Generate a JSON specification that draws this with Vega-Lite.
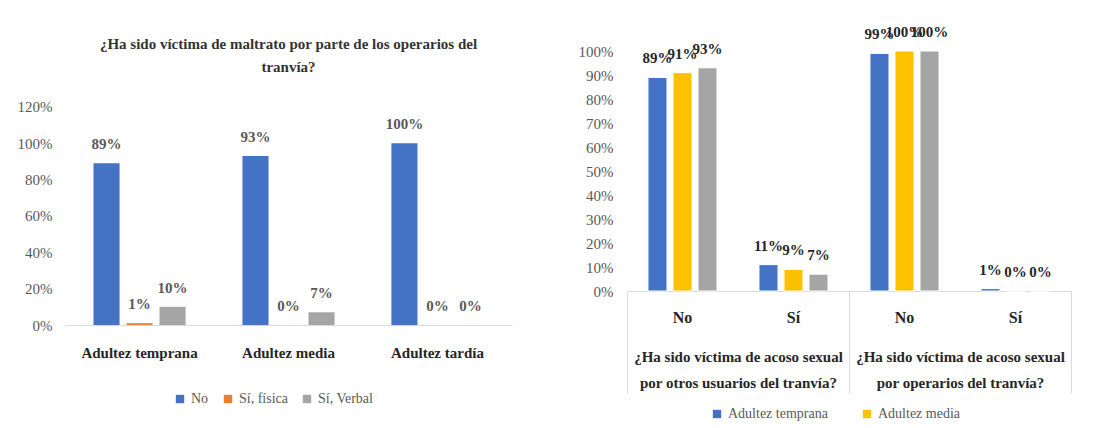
{
  "$schema": "https://vega.github.io/schema/vega-lite/v6.json",
  "padding": {"left": 17, "top": 25, "right": 5, "bottom": 2},
  "background": "white",
  "config": {
    "font": "Liberation Serif",
    "view": {"stroke": null}
  },
  "datasets": {
    "left": [
      {"grupo": "Adultez temprana", "respuesta": "No", "valor": 0.89},
      {"grupo": "Adultez temprana", "respuesta": "Sí, física", "valor": 0.01},
      {"grupo": "Adultez temprana", "respuesta": "Sí, Verbal", "valor": 0.10},
      {"grupo": "Adultez media", "respuesta": "No", "valor": 0.93},
      {"grupo": "Adultez media", "respuesta": "Sí, física", "valor": 0.0},
      {"grupo": "Adultez media", "respuesta": "Sí, Verbal", "valor": 0.07},
      {"grupo": "Adultez tardía", "respuesta": "No", "valor": 1.0},
      {"grupo": "Adultez tardía", "respuesta": "Sí, física", "valor": 0.0},
      {"grupo": "Adultez tardía", "respuesta": "Sí, Verbal", "valor": 0.0}
    ],
    "right": [
      {"pregunta": "¿Ha sido víctima de acoso sexual por otros usuarios del tranvía?", "categoria": "usuarios|No", "edad": "Adultez temprana", "valor": 0.89},
      {"pregunta": "¿Ha sido víctima de acoso sexual por otros usuarios del tranvía?", "categoria": "usuarios|No", "edad": "Adultez media", "valor": 0.91},
      {"pregunta": "¿Ha sido víctima de acoso sexual por otros usuarios del tranvía?", "categoria": "usuarios|No", "edad": "Adultez tardía", "valor": 0.93},
      {"pregunta": "¿Ha sido víctima de acoso sexual por otros usuarios del tranvía?", "categoria": "usuarios|Sí", "edad": "Adultez temprana", "valor": 0.11},
      {"pregunta": "¿Ha sido víctima de acoso sexual por otros usuarios del tranvía?", "categoria": "usuarios|Sí", "edad": "Adultez media", "valor": 0.09},
      {"pregunta": "¿Ha sido víctima de acoso sexual por otros usuarios del tranvía?", "categoria": "usuarios|Sí", "edad": "Adultez tardía", "valor": 0.07},
      {"pregunta": "¿Ha sido víctima de acoso sexual por operarios del tranvía?", "categoria": "operarios|No", "edad": "Adultez temprana", "valor": 0.99},
      {"pregunta": "¿Ha sido víctima de acoso sexual por operarios del tranvía?", "categoria": "operarios|No", "edad": "Adultez media", "valor": 1.0},
      {"pregunta": "¿Ha sido víctima de acoso sexual por operarios del tranvía?", "categoria": "operarios|No", "edad": "Adultez tardía", "valor": 1.0},
      {"pregunta": "¿Ha sido víctima de acoso sexual por operarios del tranvía?", "categoria": "operarios|Sí", "edad": "Adultez temprana", "valor": 0.01},
      {"pregunta": "¿Ha sido víctima de acoso sexual por operarios del tranvía?", "categoria": "operarios|Sí", "edad": "Adultez media", "valor": 0.0},
      {"pregunta": "¿Ha sido víctima de acoso sexual por operarios del tranvía?", "categoria": "operarios|Sí", "edad": "Adultez tardía", "valor": 0.0}
    ]
  },
  "hconcat": [
    {
      "width": 447,
      "height": 274,
      "title": {
        "text": ["¿Ha sido víctima de maltrato por parte de los operarios del", "tranvía?"],
        "font": "Liberation Serif",
        "fontSize": 15,
        "fontWeight": "bold",
        "color": "#333333",
        "lineHeight": 23,
        "anchor": "middle",
        "offset": -24
      },
      "data": {"name": "left"},
      "encoding": {
        "x": {
          "field": "grupo", "type": "nominal",
          "scale": {"domain": ["Adultez temprana", "Adultez media", "Adultez tardía"], "paddingInner": 0.335, "paddingOuter": 0.168},
          "axis": {"title": null, "labelAngle": 0, "labelFont": "Liberation Serif", "labelFontSize": 15, "labelFontWeight": "bold", "labelColor": "#262626", "ticks": false, "domainColor": "#d9d9d9", "labelPadding": 20}
        },
        "xOffset": {
          "field": "respuesta", "type": "nominal",
          "scale": {"domain": ["No", "Sí, física", "Sí, Verbal"], "paddingInner": 0.21, "paddingOuter": 0.105}
        },
        "y": {
          "field": "valor", "type": "quantitative",
          "scale": {"domain": [0, 1.508], "nice": false},
          "axis": {"title": null, "format": ".0%", "values": [0, 0.2, 0.4, 0.6, 0.8, 1.0, 1.2], "grid": false, "domain": false, "ticks": false, "labelFont": "Liberation Serif", "labelFontSize": 15, "labelColor": "#595959", "labelPadding": 13}
        }
      },
      "layer": [
        {
          "mark": {"type": "bar"},
          "encoding": {
            "color": {
              "field": "respuesta", "type": "nominal",
              "scale": {"domain": ["No", "Sí, física", "Sí, Verbal"], "range": ["#4472C4", "#ED7D31", "#A5A5A5"]},
              "legend": {"title": null, "orient": "none", "legendX": 108, "legendY": 341, "direction": "horizontal", "symbolType": "square", "symbolSize": 70, "symbolStrokeWidth": 0, "labelFont": "Liberation Serif", "labelFontSize": 14, "labelColor": "#595959", "columnPadding": 12}
            }
          }
        },
        {
          "mark": {"type": "text", "baseline": "middle", "dy": -19, "font": "Liberation Serif", "fontSize": 15, "fontWeight": "bold", "color": "#595959"},
          "encoding": {"text": {"field": "valor", "type": "quantitative", "format": ".0%"}}
        }
      ]
    },
    {
      "width": 444,
      "height": 240,
      "data": {"name": "right"},
      "layer": [
        {
          "encoding": {
            "x": {
              "field": "categoria", "type": "nominal",
              "scale": {"domain": ["usuarios|No", "usuarios|Sí", "operarios|No", "operarios|Sí"], "paddingInner": 0.324, "paddingOuter": 0.162},
              "axis": {"title": null, "orient": "bottom", "labelAngle": 0, "labelExpr": "split(datum.label, '|')[1]", "labelFont": "Liberation Serif", "labelFontSize": 16, "labelFontWeight": "bold", "labelColor": "#262626", "ticks": false, "domainColor": "#d9d9d9", "labelPadding": 18}
            },
            "xOffset": {
              "field": "edad", "type": "nominal",
              "scale": {"domain": ["Adultez temprana", "Adultez media", "Adultez tardía"], "paddingInner": 0.24, "paddingOuter": 0.12}
            },
            "y": {
              "field": "valor", "type": "quantitative",
              "scale": {"domain": [0, 1]},
              "axis": {"title": null, "format": ".0%", "values": [0, 0.1, 0.2, 0.3, 0.4, 0.5, 0.6, 0.7, 0.8, 0.9, 1.0], "grid": false, "domain": false, "ticks": false, "labelFont": "Liberation Serif", "labelFontSize": 15, "labelColor": "#595959", "labelPadding": 14}
            }
          },
          "layer": [
            {
              "mark": {"type": "bar", "stroke": "white", "strokeWidth": 1},
              "encoding": {
                "color": {
                  "field": "edad", "type": "nominal",
                  "scale": {"domain": ["Adultez temprana", "Adultez media", "Adultez tardía"], "range": ["#4472C4", "#FFC000", "#A5A5A5"]},
                  "legend": {"title": null, "orient": "none", "legendX": 83, "legendY": 356, "direction": "horizontal", "values": ["Adultez temprana", "Adultez media"], "symbolType": "square", "symbolSize": 70, "symbolStrokeWidth": 0, "labelFont": "Liberation Serif", "labelFontSize": 14, "labelColor": "#595959", "columnPadding": 32}
                }
              }
            },
            {
              "mark": {"type": "text", "baseline": "middle", "dy": -19, "font": "Liberation Serif", "fontSize": 15, "fontWeight": "bold", "color": "#262626"},
              "encoding": {"text": {"field": "valor", "type": "quantitative", "format": ".0%"}}
            }
          ]
        },
        {
          "mark": {"type": "bar", "opacity": 0},
          "encoding": {
            "x": {
              "field": "pregunta", "type": "nominal",
              "scale": {"domain": ["¿Ha sido víctima de acoso sexual por otros usuarios del tranvía?", "¿Ha sido víctima de acoso sexual por operarios del tranvía?"], "paddingInner": 0, "paddingOuter": 0},
              "axis": {"title": null, "orient": "bottom", "labelAngle": 0, "labelExpr": "split(replace(datum.label, ' por ', '|por '), '|')", "labelFont": "Liberation Serif", "labelFontSize": 15, "labelFontWeight": "bold", "labelColor": "#262626", "labelLineHeight": 26, "labelLimit": 0, "domain": false, "ticks": true, "tickBand": "extent", "tickSize": 102, "tickColor": "#d9d9d9", "labelPadding": -44}
            }
          }
        }
      ],
      "resolve": {"scale": {"x": "independent"}, "axis": {"x": "independent"}}
    }
  ],
  "spacing": 66,
  "resolve": {"scale": {"color": "independent", "y": "independent", "x": "independent", "xOffset": "independent"}, "legend": {"color": "independent"}}
}
